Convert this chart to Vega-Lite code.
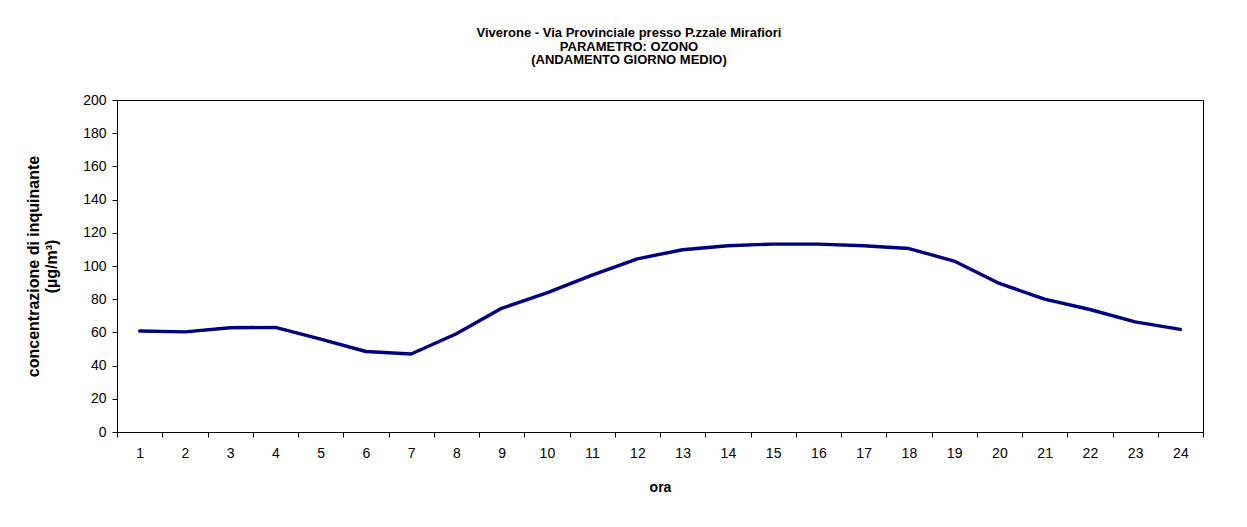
{
  "$schema": "https://vega.github.io/schema/vega-lite/v6.json",
  "autosize": "none",
  "width": 1086,
  "height": 332,
  "padding": {"left": 117, "top": 100, "right": 44, "bottom": 95},
  "background": "white",
  "title": {
    "text": ["Viverone - Via Provinciale presso P.zzale Mirafiori", "PARAMETRO: OZONO", "(ANDAMENTO GIORNO MEDIO)"],
    "font": "Liberation Sans",
    "fontSize": 13,
    "fontWeight": "bold",
    "color": "black",
    "anchor": "middle",
    "frame": "group",
    "dx": -31,
    "lineHeight": 13.5,
    "offset": 26
  },
  "data": {
    "values": [
      {"ora": 1, "valore": 60.8},
      {"ora": 2, "valore": 60.3},
      {"ora": 3, "valore": 62.8},
      {"ora": 4, "valore": 63.0},
      {"ora": 5, "valore": 56.0},
      {"ora": 6, "valore": 48.5},
      {"ora": 7, "valore": 47.0},
      {"ora": 8, "valore": 59.2},
      {"ora": 9, "valore": 74.5},
      {"ora": 10, "valore": 83.8},
      {"ora": 11, "valore": 94.5},
      {"ora": 12, "valore": 104.3},
      {"ora": 13, "valore": 109.8},
      {"ora": 14, "valore": 112.2},
      {"ora": 15, "valore": 113.2},
      {"ora": 16, "valore": 113.2},
      {"ora": 17, "valore": 112.2},
      {"ora": 18, "valore": 110.5},
      {"ora": 19, "valore": 103.0},
      {"ora": 20, "valore": 89.5},
      {"ora": 21, "valore": 80.0},
      {"ora": 22, "valore": 73.8},
      {"ora": 23, "valore": 66.3},
      {"ora": 24, "valore": 61.8}
    ]
  },
  "mark": {"type": "line", "color": "#000080", "strokeWidth": 3.4, "strokeJoin": "round", "strokeCap": "round"},
  "encoding": {
    "x": {
      "field": "ora",
      "type": "ordinal",
      "bandPosition": 0.5,
      "scale": {"type": "band", "paddingInner": 0, "paddingOuter": 0},
      "axis": {
        "title": "ora",
        "labelAngle": 0,
        "tickBand": "extent",
        "grid": false,
        "labelPadding": 9,
        "titlePadding": 20,
        "titleFontSize": 14
      }
    },
    "y": {
      "field": "valore",
      "type": "quantitative",
      "scale": {"domain": [0, 200], "nice": false, "zero": true},
      "axis": {
        "title": ["concentrazione di inquinante", "(µg/m³)"],
        "values": [0, 20, 40, 60, 80, 100, 120, 140, 160, 180, 200],
        "grid": false,
        "labelPadding": 6,
        "titlePadding": 23,
        "titleFontSize": 16,
        "titleLineHeight": 18
      }
    }
  },
  "config": {
    "view": {"stroke": "black", "strokeWidth": 1},
    "axis": {
      "domainColor": "black",
      "domainWidth": 1,
      "tickColor": "black",
      "tickSize": 5,
      "labelFont": "Liberation Sans",
      "labelFontSize": 14,
      "labelColor": "black",
      "titleFont": "Liberation Sans",
      "titleFontWeight": "bold",
      "titleColor": "black"
    }
  }
}
